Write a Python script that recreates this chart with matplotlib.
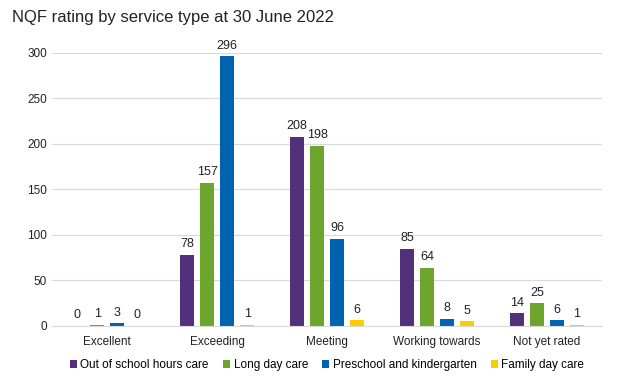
import numpy as np
import matplotlib.pyplot as plt

plt.rcParams['font.family'] = ['Liberation Sans', 'DejaVu Sans']

categorias = ['Excellent', 'Exceeding', 'Meeting', 'Working towards', 'Not yet rated']
series = ['Out of school hours care', 'Long day care', 'Preschool and kindergarten', 'Family day care']
oshc = [0, 78, 208, 85, 14]
ldc = [1, 157, 198, 64, 25]
preschool = [3, 296, 96, 8, 6]
fdc = [0, 1, 6, 5, 1]
cores = ['#52307C', '#6CA62C', '#0063B0', '#FFCC00']

fig = plt.figure(figsize=(6.2, 3.83), dpi=100)
ax = fig.add_axes([0.084, 0.149, 0.887, 0.713])

x = np.arange(len(categorias))
passo = 0.182
largura = 0.13
for i, (nome, valores) in enumerate(zip(series, [oshc, ldc, preschool, fdc])):
    pos = x + (i - 1.5) * passo
    ax.bar(pos, valores, width=largura, color=cores[i], label=nome, zorder=2)
    for p, v in zip(pos, valores):
        ax.text(p, v + 5, str(v), ha='center', va='bottom', fontsize=9, color='#222222', clip_on=False)

ax.set_xlim(-0.5, len(categorias) - 0.5)
ax.set_ylim(0, 300)
ax.set_yticks(range(0, 301, 50))
ax.set_xticks(x)
ax.set_xticklabels(categorias)
ax.grid(axis='y', color='#D9D9D9', linewidth=0.8, zorder=0)
for s in ['top', 'right', 'left']:
    ax.spines[s].set_visible(False)
ax.spines['bottom'].set_color('#D9D9D9')
ax.tick_params(axis='both', length=0, labelsize=8.5, colors='#222222')
ax.tick_params(axis='x', pad=7)

fig.text(0.02, 0.955, 'NQF rating by service type at 30 June 2022', fontsize=12, va='center', color='#222222')

ax.legend(loc='center', bbox_to_anchor=(0.5, -0.143), ncol=4, frameon=False, fontsize=8.5,
          handlelength=0.6, handleheight=0.6, handletextpad=0.3, columnspacing=1.2)

fig.savefig('out.png', dpi=100)
